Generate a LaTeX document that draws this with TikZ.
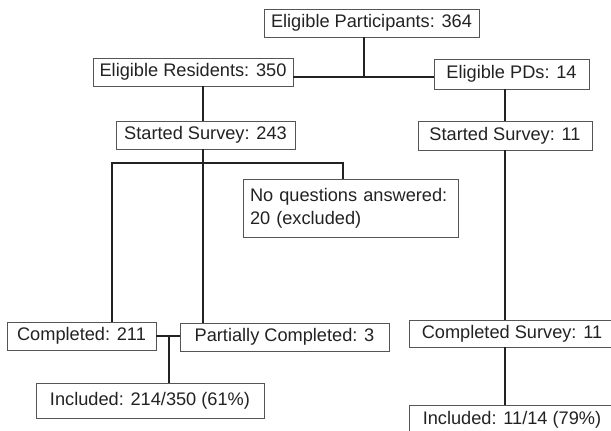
\documentclass[tikz,border=0pt]{standalone}
\usepackage{fontspec}
\setmainfont{Liberation Sans}
\usetikzlibrary{positioning,calc}
\definecolor{ink}{HTML}{222222}
\definecolor{frame}{HTML}{555555}
\tikzset{
  box/.style={draw=frame,line width=0.9pt,rectangle,inner sep=0pt,minimum height=28pt,align=center,text=ink,font=\fontsize{18.2}{23}\selectfont},
  link/.style={draw=ink,line width=2pt}
}

\begin{document}
\begin{tikzpicture}[x=1pt,y=-1pt]
\useasboundingbox (0,0) rectangle (611,431);
\clip (0,0) rectangle (611,431);

\node[box,minimum width=215pt] (part) at (371.5,23) {Eligible Participants: 364};
\node[box,minimum width=200pt] (res) at (193,72) {Eligible Residents: 350};
\node[box,minimum width=155pt,minimum height=30pt] (pds) at (511.5,74) {Eligible PDs: 14};
\node[box,minimum width=179pt] (st1) at (205.5,135) {Started Survey: 243};
\node[box,minimum width=174pt,minimum height=29pt] (st2) at (505,135.5) {Started Survey: 11};
\node[box,minimum height=58pt,text width=201pt,inner xsep=7pt,align=left] (noq) at (350.5,208) {No questions answered:\\20 (excluded)};
\node[box,minimum width=149pt] (comp) at (81.5,336) {Completed: 211};
\node[box,minimum width=209pt] (parc) at (284.5,337) {Partially Completed: 3};
\node[box,minimum width=206pt,minimum height=27pt] (cs) at (512,333.5) {Completed Survey: 11};
\node[box,minimum width=228pt,minimum height=35pt] (inc1) at (150,400.5) {Included: 214/350 (61\%)};
\node[box,minimum width=206pt,minimum height=29pt] (inc2) at (512,419.5) {Included: 11/14 (79\%)};

\coordinate (split) at (364,77);
\coordinate (stem) at (203,163);
\coordinate (lft) at (112,163);
\coordinate (rgt) at (343,163);
\coordinate (merge) at (169,336);

% residents branch
\draw[link] (part.south -| split) -- (split);
\draw[link] (res.east |- split) -- (pds.west |- split);
\draw[link] (res.south -| stem) -- (st1.north -| stem);
\draw[link] (st1.south -| stem) -- (parc.north -| stem);
\draw[link] (comp.north -| lft) -- (lft) -- (rgt) -- (noq.north -| rgt);
\draw[link] (comp.east |- merge) -- (parc.west |- merge);
\draw[link] (merge) -- (inc1.north -| merge);

% program directors branch
\draw[link] (pds.south -| st2.north) -- (st2.north);
\draw[link] (st2.south) -- (cs.north -| st2.south);
\draw[link] (cs.south -| st2.south) -- (inc2.north -| st2.south);

\end{tikzpicture}
\end{document}
